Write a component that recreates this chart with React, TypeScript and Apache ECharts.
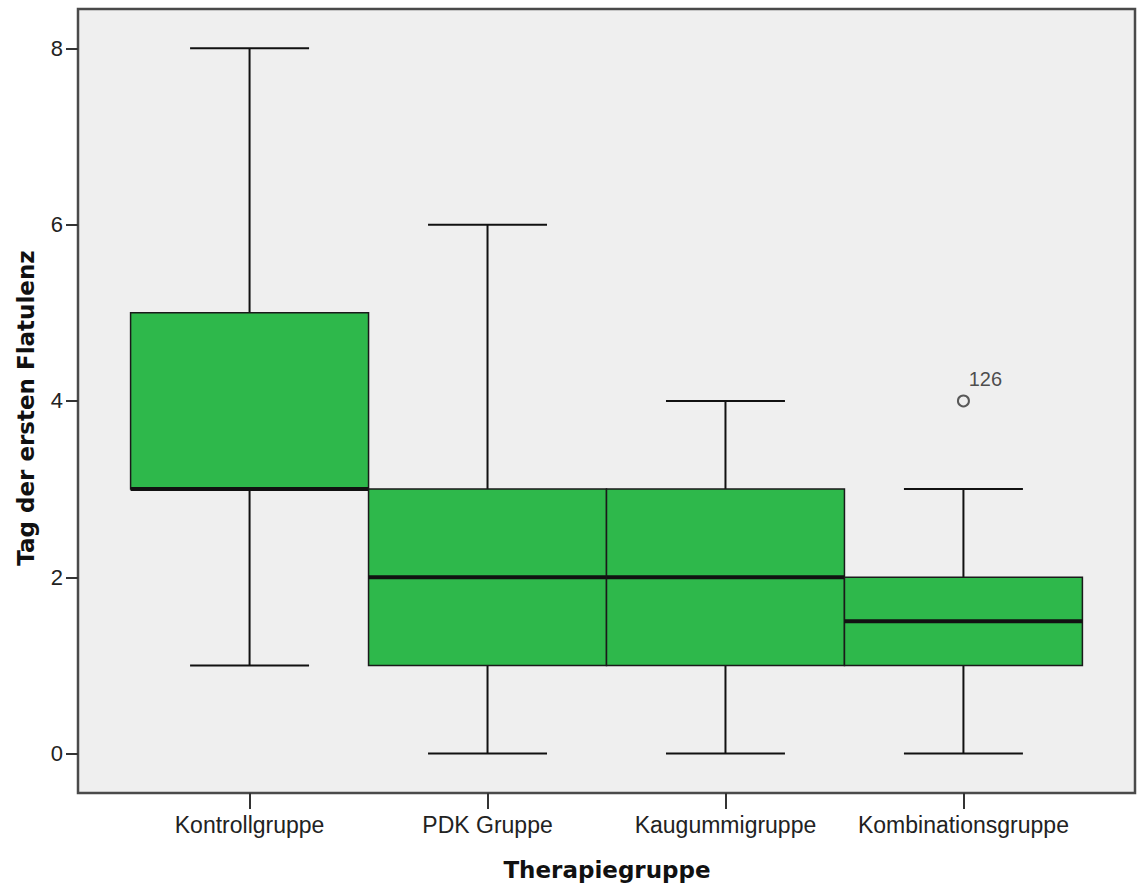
import React, { useEffect, useRef } from "react";
import * as echarts from "echarts";

// Therapy groups and their five-number summaries (day of first flatulence)
const categories = ["Kontrollgruppe", "PDK Gruppe", "Kaugummigruppe", "Kombinationsgruppe"];
const whiskerLow = [1, 0, 0, 0];
const quartile1 = [3, 1, 1, 1];
const medians = [3, 2, 2, 1.5];
const quartile3 = [5, 3, 3, 2];
const whiskerHigh = [8, 6, 4, 3];

// Outliers: [group index, value] and their case numbers
const outlierPoints: [number, number][] = [[3, 4]];
const outlierIds = ["126"];

const yTicks = [0, 2, 4, 6, 8];
const xTicks = [0, 1, 2, 3];

const GREEN = "#2eb84b";
const FONT = "'Liberation Sans', Arial, sans-serif";

export default function App() {
  const ref = useRef<HTMLDivElement>(null);

  useEffect(() => {
    if (!ref.current) return;
    const chart = echarts.init(ref.current, null, { renderer: "svg" });

    const boxData = categories.map((_, i) => [
      i,
      whiskerLow[i],
      quartile1[i],
      medians[i],
      quartile3[i],
      whiskerHigh[i],
    ]);

    const renderBox = (params: any, api: any) => {
      const x = api.value(0);
      const lo = api.value(1);
      const q1 = api.value(2);
      const md = api.value(3);
      const q3 = api.value(4);
      const hi = api.value(5);
      const half = 0.5;
      const cap = 0.25;
      const p = (xx: number, yy: number) => api.coord([xx, yy]);
      const seg = (a: number[], b: number[], w: number) => ({
        type: "line",
        shape: { x1: a[0], y1: a[1], x2: b[0], y2: b[1] },
        style: { stroke: "#111", lineWidth: w },
      });
      const tl = p(x - half, q3);
      const br = p(x + half, q1);
      return {
        type: "group",
        children: [
          seg(p(x, q3), p(x, hi), 2),
          seg(p(x - cap, hi), p(x + cap, hi), 2),
          seg(p(x, q1), p(x, lo), 2),
          seg(p(x - cap, lo), p(x + cap, lo), 2),
          {
            type: "rect",
            shape: { x: tl[0], y: tl[1], width: br[0] - tl[0], height: br[1] - tl[1] },
            style: { fill: GREEN, stroke: "#1a1a1a", lineWidth: 1.5 },
          },
          seg(p(x - half, md), p(x + half, md), 4),
        ],
      };
    };

    chart.setOption({
      animation: false,
      backgroundColor: "#ffffff",
      grid: {
        left: 78,
        top: 9,
        width: 1057,
        height: 784,
        show: true,
        backgroundColor: "#efefef",
        borderColor: "#4a4a4a",
        borderWidth: 2.5,
      },
      xAxis: {
        type: "value",
        min: -0.721,
        max: 3.721,
        axisLine: { show: false, onZero: false },
        splitLine: { show: false },
        axisTick: {
          show: true,
          customValues: xTicks,
          length: 16,
          lineStyle: { color: "#333", width: 2 },
        },
        axisLabel: {
          customValues: xTicks,
          formatter: (v: number) => categories[Math.round(v)] ?? "",
          margin: 20,
          fontFamily: FONT,
          fontSize: 23,
          color: "#222",
        },
      },
      yAxis: {
        type: "value",
        min: -0.447,
        max: 8.446,
        axisLine: { show: false, onZero: false },
        splitLine: { show: false },
        axisTick: {
          show: true,
          customValues: yTicks,
          length: 12,
          lineStyle: { color: "#333", width: 2 },
        },
        axisLabel: {
          customValues: yTicks,
          formatter: (v: number) => String(v),
          margin: 15,
          fontFamily: FONT,
          fontSize: 22,
          color: "#222",
        },
      },
      graphic: [
        {
          type: "text",
          x: 26,
          y: 408,
          rotation: Math.PI / 2,
          style: {
            text: "Tag der ersten Flatulenz",
            align: "center",
            verticalAlign: "middle",
            fontFamily: "'DejaVu Sans', sans-serif",
            fontWeight: "bold",
            fontSize: 23,
            fill: "#111",
          },
        },
        {
          type: "text",
          x: 607,
          y: 870,
          style: {
            text: "Therapiegruppe",
            align: "center",
            verticalAlign: "middle",
            fontFamily: "'DejaVu Sans', sans-serif",
            fontWeight: "bold",
            fontSize: 23,
            fill: "#111",
          },
        },
      ],
      series: [
        {
          type: "custom",
          renderItem: renderBox,
          encode: { x: 0, y: [1, 2, 3, 4, 5] },
          data: boxData,
          z: 2,
        },
        {
          type: "scatter",
          data: outlierPoints,
          symbol: "circle",
          symbolSize: 11,
          z: 3,
          itemStyle: { color: "rgba(0,0,0,0)", borderColor: "#333", borderWidth: 2 },
          label: {
            show: true,
            position: "top",
            offset: [22, 0],
            formatter: (p: any) => outlierIds[p.dataIndex],
            fontFamily: FONT,
            fontSize: 20,
            color: "#222",
          },
        },
      ],
    });

    return () => chart.dispose();
  }, []);

  return (
    <div
      ref={ref}
      style={{ position: "absolute", left: 0, top: 0, width: 1140, height: 890 }}
    />
  );
}
